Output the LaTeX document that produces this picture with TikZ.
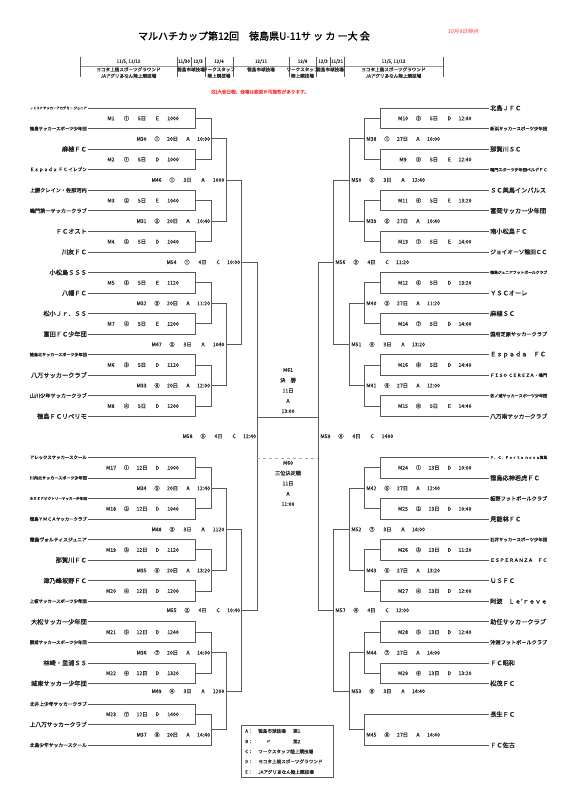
\documentclass[tikz,border=0pt]{standalone}
\usepackage{fontspec}
\usepackage{graphicx}
\usepackage{tikz}
\usetikzlibrary{calc}
\setmainfont{Noto Sans CJK JP}
\newfontfamily\cjkb[FakeBold=1.5]{Noto Sans CJK JP}
\newfontfamily\cjkm[FakeBold=0.6]{Noto Sans CJK JP}
\newfontfamily\cjkit[FakeSlant=0.2]{Noto Sans CJK JP}
\definecolor{linegray}{HTML}{5A5A5A}
\definecolor{shadegray}{HTML}{A8A8A8}
\definecolor{notered}{HTML}{FF3B3B}
\definecolor{textgray}{HTML}{2E2E2E}

% team names shrink to the cell width
\newlength\namewd
\newcommand\fitname[1]{\settowidth\namewd{#1}\ifdim\namewd>57pt\resizebox{57pt}{!}{#1}\else#1\fi}
% match label: number, slot, day, venue, time
\newcommand\ml[5]{\makebox[15.5pt]{#1}\makebox[15.5pt]{#2}\makebox[15.5pt]{#3}\makebox[15.5pt]{#4}\makebox[15.5pt]{#5}}
% upper end, lower end, column, match name, label style, label
\newcommand\bracket[6]{%
  \draw[bline] (#1) -- (#1 -| #3) -- (#2 -| #3) -- (#2);
  \coordinate (#4) at ($(#1 -| #3)!0.5!(#2 -| #3)$);
  \node[mlabel,#5] (#4lab) at (#4) {#6};}

\tikzset{
  bline/.style={draw=linegray, line width=0.8pt},
  team/.style={font=\cjkb\fontsize{6.2}{7}\selectfont, inner xsep=1pt, inner ysep=0.5pt, text=black!85},
  lteam/.style={team, anchor=east},
  rteam/.style={team, anchor=west},
  mlabel/.style={font=\cjkm\fontsize{5.2}{6}\selectfont, inner sep=0pt, text=textgray},
  lfirst/.style={xshift=-53pt},
  lnext/.style={anchor=east, xshift=0.5pt},
  rfirst/.style={xshift=54pt},
  rnext/.style={anchor=west, xshift=-0.5pt},
  hdr/.style={font=\cjkm\fontsize{4.6}{6.4}\selectfont, inner sep=0pt, align=center, text=textgray},
  ctext/.style={font=\cjkm\fontsize{5.2}{10.3}\selectfont, inner sep=0pt, align=center, text=textgray},
}

\begin{document}
\begin{tikzpicture}[x=1pt,y=-1pt]
  \useasboundingbox (0,0) rectangle (576,805);
  % title
  \node[font=\cjkb\fontsize{10}{12}\selectfont] (title) at (254,36) {マルハチカップ第12回　徳島県U-11サ ッ カ ー大 会};
  \node[font=\cjkit\fontsize{5.4}{6}\selectfont, text=notered] (asof) at (463,31) {10月8日時点};
  % schedule strip
  \draw[draw=black!40, line width=1.3pt] (80,66.7) -- (443,66.7);
  \draw[draw=linegray, line width=0.6pt] (80,56.7) -- (80,76.7) (177,56.7) -- (177,76.7)
    (191,56.7) -- (191,66.7) (205,56.7) -- (205,76.7) (233,56.7) -- (233,76.7)
    (289,56.7) -- (289,76.7) (316,56.7) -- (316,76.7) (330,56.7) -- (330,66.7)
    (344,56.7) -- (344,76.7) (443,56.7) -- (443,76.7);
  \node[hdr] (hd1) at (128.5,61.5) {11/5, 11/12};
  \node[hdr] (hd2) at (184,61.5) {11/30};
  \node[hdr] (hd3) at (198,61.5) {12/3};
  \node[hdr] (hd4) at (219,61.5) {12/4};
  \node[hdr] (hd5) at (261,61.5) {12/11};
  \node[hdr] (hd6) at (302.5,61.5) {12/4};
  \node[hdr] (hd7) at (323,61.5) {12/3};
  \node[hdr] (hd8) at (337,61.5) {11/21};
  \node[hdr] (hd9) at (393.5,61.5) {11/5, 11/13};
  \node[hdr] (hv1) at (128.5,72.7) {ヨコタ上桜スポーツグラウンド\\JAアグリあなん陸上競技場};
  \node[hdr] (hv2) at (191,69.5) {徳島市球技場};
  \node[hdr] (hv3) at (219,72.7) {ワークスタッフ\\陸上競技場};
  \node[hdr] (hv4) at (261,69.5) {徳島市球技場};
  \node[hdr] (hv5) at (302.5,72.7) {ワークスタッフ\\陸上競技場};
  \node[hdr] (hv6) at (330,69.5) {徳島市球技場};
  \node[hdr] (hv7) at (393.5,72.7) {ヨコタ上桜スポーツグラウンド\\JAアグリあなん陸上競技場};
  \node[hdr, text=notered] (note) at (260,92) {注)大会日程、会場は変更の可能性があります。};
  % bracket columns
  \coordinate (c1) at (195,0);
  \coordinate (c2) at (211,0);
  \coordinate (c3) at (226,0);
  \coordinate (c4) at (241,0);
  \coordinate (c5) at (257,0);
  \coordinate (d1) at (380,0);
  \coordinate (d2) at (364,0);
  \coordinate (d3) at (349,0);
  \coordinate (d4) at (333,0);
  \coordinate (d5) at (318,0);
  % left teams
  \node[lteam] (L1) at (88,108.0) {\fitname{ＪＣＳＰサッカーアカデミー ジュニア}};
  \node[lteam] (L2) at (88,128.6) {\fitname{徳島サッカースポーツ少年団}};
  \node[lteam] (L3) at (88,149.1) {\fitname{麻植ＦＣ}};
  \node[lteam] (L4) at (88,169.7) {\fitname{Ｅｓｐａｄａ ＦＣ イレブン}};
  \node[lteam] (L5) at (88,190.2) {\fitname{上勝クレイン・佐那河内}};
  \node[lteam] (L6) at (88,210.8) {\fitname{鳴門第一サッカークラブ}};
  \node[lteam] (L7) at (88,231.3) {\fitname{ＦＣオスト}};
  \node[lteam] (L8) at (88,251.9) {\fitname{川友ＦＣ}};
  \node[lteam] (L9) at (88,272.4) {\fitname{小松島ＳＳＳ}};
  \node[lteam] (L10) at (88,293.0) {\fitname{八幡ＦＣ}};
  \node[lteam] (L11) at (88,313.5) {\fitname{松小Ｊｒ．ＳＳ}};
  \node[lteam] (L12) at (88,334.1) {\fitname{富田ＦＣ少年団}};
  \node[lteam] (L13) at (88,354.6) {\fitname{徳島北サッカースポーツ少年団}};
  \node[lteam] (L14) at (88,375.2) {\fitname{八万サッカークラブ}};
  \node[lteam] (L15) at (88,395.7) {\fitname{山川少年サッカークラブ}};
  \node[lteam] (L16) at (88,416.3) {\fitname{徳島ＦＣリベリモ}};
  \node[lteam] (L17) at (88,457.4) {\fitname{アレックスサッカースクール}};
  \node[lteam] (L18) at (88,477.9) {\fitname{川内北サッカースポーツ少年団}};
  \node[lteam] (L19) at (88,498.5) {\fitname{ＢＥＥＦビクトリーサッカー少年団}};
  \node[lteam] (L20) at (88,519.0) {\fitname{徳島ＹＭＣＡサッカークラブ}};
  \node[lteam] (L21) at (88,539.6) {\fitname{徳島ヴォルティスジュニア}};
  \node[lteam] (L22) at (88,560.1) {\fitname{那賀川ＦＣ}};
  \node[lteam] (L23) at (88,580.7) {\fitname{津乃峰坂野ＦＣ}};
  \node[lteam] (L24) at (88,601.2) {\fitname{上板サッカースポーツ少年団}};
  \node[lteam] (L25) at (88,621.8) {\fitname{大松サッカー少年団}};
  \node[lteam] (L26) at (88,642.3) {\fitname{勝浦サッカースポーツ少年団}};
  \node[lteam] (L27) at (88,662.9) {\fitname{林崎・里浦ＳＳ}};
  \node[lteam] (L28) at (88,683.4) {\fitname{城東サッカー少年団}};
  \node[lteam] (L29) at (88,704.0) {\fitname{北井上少年サッカークラブ}};
  \node[lteam] (L30) at (88,724.5) {\fitname{上八万サッカークラブ}};
  \node[lteam] (L31) at (88,745.1) {\fitname{北島少年サッカースクール}};
  % right teams
  \node[rteam] (R1) at (489,108.0) {\fitname{北島ＪＦＣ}};
  \node[rteam] (R2) at (489,128.6) {\fitname{新浜サッカースポーツ少年団}};
  \node[rteam] (R3) at (489,149.1) {\fitname{那賀川ＳＣ}};
  \node[rteam] (R4) at (489,169.7) {\fitname{鳴門スポーツ少年団ベルデＦＣ}};
  \node[rteam] (R5) at (489,190.2) {\fitname{ＳＣ美馬インパルス}};
  \node[rteam] (R6) at (489,210.8) {\fitname{富岡サッカー少年団}};
  \node[rteam] (R7) at (489,231.3) {\fitname{南小松島ＦＣ}};
  \node[rteam] (R8) at (489,251.9) {\fitname{ジョイオーソ論田ＣＣ}};
  \node[rteam] (R9) at (489,272.4) {\fitname{徳島ジュニアフットボールクラブ}};
  \node[rteam] (R10) at (489,293.0) {\fitname{ＹＳＣオーレ}};
  \node[rteam] (R11) at (489,313.5) {\fitname{麻植ＳＣ}};
  \node[rteam] (R12) at (489,334.1) {\fitname{国府芝原サッカークラブ}};
  \node[rteam] (R13) at (489,354.6) {\fitname{Ｅｓｐａｄａ　ＦＣ}};
  \node[rteam] (R14) at (489,375.2) {\fitname{ＦＩＳＯ ＣＥＲＥＺＡ・鳴門}};
  \node[rteam] (R15) at (489,395.7) {\fitname{佐ノ浦サッカースポーツ少年団}};
  \node[rteam] (R16) at (489,416.3) {\fitname{八万南サッカークラブ}};
  \node[rteam] (R17) at (489,457.4) {\fitname{Ｆ．Ｃ．Ｐｏｒｔａ ｎｏｖａ徳島}};
  \node[rteam] (R18) at (489,477.9) {\fitname{徳島応神若虎ＦＣ}};
  \node[rteam] (R19) at (489,498.5) {\fitname{板野フットボールクラブ}};
  \node[rteam] (R20) at (489,519.0) {\fitname{見能林ＦＣ}};
  \node[rteam] (R21) at (489,539.6) {\fitname{石井サッカースポーツ少年団}};
  \node[rteam] (R22) at (489,560.1) {\fitname{ＥＳＰＥＲＡＮＺＡ　ＦＣ}};
  \node[rteam] (R23) at (489,580.7) {\fitname{ＵＳＦＣ}};
  \node[rteam] (R24) at (489,601.2) {\fitname{阿波　Ｌｅ’ｒｅｖｅ}};
  \node[rteam] (R25) at (489,621.8) {\fitname{助任サッカークラブ}};
  \node[rteam] (R26) at (489,642.3) {\fitname{沖洲フットボールクラブ}};
  \node[rteam] (R27) at (489,662.9) {\fitname{ＦＣ昭和}};
  \node[rteam] (R28) at (489,683.4) {\fitname{松茂ＦＣ}};
  \node[rteam] (R29) at (489,714.3) {\fitname{長生ＦＣ}};
  \node[rteam] (R30) at (489,745.1) {\fitname{ＦＣ佐古}};
  % left block, upper half
  \bracket{L1.east}{L2.east}{c1}{M1}{lfirst}{\ml{M1}{①}{5日}{E}{1000}}
  \bracket{L3.east}{L4.east}{c1}{M2}{lfirst}{\ml{M2}{①}{5日}{D}{1000}}
  \bracket{M1}{M2}{c2}{M30}{lnext}{\ml{M30}{①}{20日}{A}{10:00}}
  \bracket{L5.east}{L6.east}{c1}{M3}{lfirst}{\ml{M3}{②}{5日}{E}{1040}}
  \bracket{L7.east}{L8.east}{c1}{M4}{lfirst}{\ml{M4}{②}{5日}{D}{1040}}
  \bracket{M3}{M4}{c2}{M31}{lnext}{\ml{M31}{②}{20日}{A}{10:40}}
  \bracket{M30}{M31}{c3}{M46}{lnext}{\ml{M46}{①}{3日}{A}{1000}}
  \bracket{L9.east}{L10.east}{c1}{M5}{lfirst}{\ml{M5}{③}{5日}{E}{1120}}
  \bracket{L11.east}{L12.east}{c1}{M7}{lfirst}{\ml{M7}{④}{5日}{E}{1200}}
  \bracket{M5}{M7}{c2}{M32}{lnext}{\ml{M32}{③}{20日}{A}{11:20}}
  \bracket{L13.east}{L14.east}{c1}{M6}{lfirst}{\ml{M6}{③}{5日}{D}{1120}}
  \bracket{L15.east}{L16.east}{c1}{M8}{lfirst}{\ml{M8}{④}{5日}{D}{1200}}
  \bracket{M6}{M8}{c2}{M33}{lnext}{\ml{M33}{④}{20日}{A}{12:00}}
  \bracket{M32}{M33}{c3}{M47}{lnext}{\ml{M47}{②}{3日}{A}{1040}}
  \bracket{M46}{M47}{c4}{M54}{lnext}{\ml{M54}{①}{4日}{C}{10:00}}
  % left block, lower half
  \bracket{L17.east}{L18.east}{c1}{M17}{lfirst}{\ml{M17}{①}{12日}{D}{1000}}
  \bracket{L19.east}{L20.east}{c1}{M18}{lfirst}{\ml{M18}{②}{12日}{D}{1040}}
  \bracket{M17}{M18}{c2}{M34}{lnext}{\ml{M34}{⑤}{20日}{A}{12:40}}
  \bracket{L21.east}{L22.east}{c1}{M19}{lfirst}{\ml{M19}{③}{12日}{D}{1120}}
  \bracket{L23.east}{L24.east}{c1}{M20}{lfirst}{\ml{M20}{④}{12日}{D}{1200}}
  \bracket{M19}{M20}{c2}{M35}{lnext}{\ml{M35}{⑥}{20日}{A}{13:20}}
  \bracket{M34}{M35}{c3}{M48}{lnext}{\ml{M48}{③}{3日}{A}{1120}}
  \bracket{L25.east}{L26.east}{c1}{M21}{lfirst}{\ml{M21}{⑤}{12日}{D}{1240}}
  \bracket{L27.east}{L28.east}{c1}{M22}{lfirst}{\ml{M22}{⑥}{12日}{D}{1320}}
  \bracket{M21}{M22}{c2}{M36}{lnext}{\ml{M36}{⑦}{20日}{A}{14:00}}
  \bracket{L29.east}{L30.east}{c1}{M23}{lfirst}{\ml{M23}{⑦}{12日}{D}{1400}}
  \bracket{M23}{L31.east}{c2}{M37}{lnext,yshift=-5pt}{\ml{M37}{⑧}{20日}{A}{14:40}}
  \bracket{M36}{M37}{c3}{M49}{lnext}{\ml{M49}{④}{3日}{A}{1200}}
  \bracket{M48}{M49}{c4}{M55}{lnext}{\ml{M55}{②}{4日}{C}{10:40}}
  \bracket{M54}{M55}{c5}{M58}{lnext}{\ml{M58}{⑤}{4日}{C}{12:40}}
  % right block, upper half
  \bracket{R1.west}{R2.west}{d1}{M10}{rfirst}{\ml{M10}{⑤}{5日}{D}{12:40}}
  \bracket{R3.west}{R4.west}{d1}{M9}{rfirst}{\ml{M9}{⑤}{5日}{E}{12:40}}
  \bracket{M10}{M9}{d2}{M38}{rnext}{\ml{M38}{①}{27日}{A}{10:00}}
  \bracket{R5.west}{R6.west}{d1}{M11}{rfirst}{\ml{M11}{⑥}{5日}{E}{13:20}}
  \bracket{R7.west}{R8.west}{d1}{M13}{rfirst}{\ml{M13}{⑦}{5日}{E}{14:00}}
  \bracket{M11}{M13}{d2}{M39}{rnext}{\ml{M39}{②}{27日}{A}{10:40}}
  \bracket{M38}{M39}{d3}{M50}{rnext}{\ml{M50}{⑤}{3日}{A}{12:40}}
  \bracket{R9.west}{R10.west}{d1}{M12}{rfirst}{\ml{M12}{⑥}{5日}{D}{13:20}}
  \bracket{R11.west}{R12.west}{d1}{M14}{rfirst}{\ml{M14}{⑦}{5日}{D}{14:00}}
  \bracket{M12}{M14}{d2}{M40}{rnext}{\ml{M40}{③}{27日}{A}{11:20}}
  \bracket{R13.west}{R14.west}{d1}{M16}{rfirst}{\ml{M16}{⑧}{5日}{D}{14:40}}
  \bracket{R15.west}{R16.west}{d1}{M15}{rfirst}{\ml{M15}{⑧}{5日}{E}{14:40}}
  \bracket{M16}{M15}{d2}{M41}{rnext}{\ml{M41}{④}{27日}{A}{12:00}}
  \bracket{M40}{M41}{d3}{M51}{rnext}{\ml{M51}{⑥}{3日}{A}{13:20}}
  \bracket{M50}{M51}{d4}{M56}{rnext}{\ml{M56}{③}{4日}{C}{11:20}}
  % right block, lower half
  \bracket{R17.west}{R18.west}{d1}{M24}{rfirst}{\ml{M24}{①}{13日}{D}{10:00}}
  \bracket{R19.west}{R20.west}{d1}{M25}{rfirst}{\ml{M25}{②}{13日}{D}{10:40}}
  \bracket{M24}{M25}{d2}{M42}{rnext}{\ml{M42}{⑤}{27日}{A}{12:40}}
  \bracket{R21.west}{R22.west}{d1}{M26}{rfirst}{\ml{M26}{③}{13日}{D}{11:20}}
  \bracket{R23.west}{R24.west}{d1}{M27}{rfirst}{\ml{M27}{④}{13日}{D}{12:00}}
  \bracket{M26}{M27}{d2}{M43}{rnext}{\ml{M43}{⑥}{27日}{A}{13:20}}
  \bracket{M42}{M43}{d3}{M52}{rnext}{\ml{M52}{⑦}{3日}{A}{14:00}}
  \bracket{R25.west}{R26.west}{d1}{M28}{rfirst}{\ml{M28}{⑤}{13日}{D}{12:40}}
  \bracket{R27.west}{R28.west}{d1}{M29}{rfirst}{\ml{M29}{⑥}{13日}{D}{13:20}}
  \bracket{M28}{M29}{d2}{M44}{rnext}{\ml{M44}{⑦}{27日}{A}{14:00}}
  \bracket{R29.west}{R30.west}{d2}{M45}{rnext,yshift=-5pt}{\ml{M45}{⑧}{27日}{A}{14:40}}
  \bracket{M44}{M45}{d3}{M53}{rnext}{\ml{M53}{⑧}{3日}{A}{14:40}}
  \bracket{M52}{M53}{d4}{M57}{rnext}{\ml{M57}{④}{4日}{C}{12:00}}
  \bracket{M56}{M57}{d5}{M59}{rnext}{\ml{M59}{⑥}{4日}{C}{1400}}
  % final and third place
  \coordinate (fin) at (0,417);
  \coordinate (third) at (0,458);
  \draw[bline] (M58 |- fin) -- (M59 |- fin);
  \draw[draw=shadegray, line width=0.8pt, dashed] (M58 |- third) -- (M59 |- third);
  \node[ctext] (M61) at (288,390.6) {M61\\決　勝\\11日\\A\\13:00};
  \node[ctext] (M60) at (288,483.5) {M60\\三位決定戦\\11日\\A\\11:00};
  % venue key
  \draw[draw=linegray, line width=0.8pt] (241,725) rectangle (333,777);
  \node[hdr, anchor=west] (kA) at (245,731) {A：};
  \node[hdr, anchor=west] (kB) at (245,741.5) {B：};
  \node[hdr, anchor=west] (kC) at (245,751.5) {C：};
  \node[hdr, anchor=west] (kD) at (245,761.5) {D：};
  \node[hdr, anchor=west] (kE) at (245,772) {E：};
  \node[hdr, anchor=west] (vA) at (258,731) {徳島市球技場};
  \node[hdr, anchor=west] (vA2) at (293,731) {第1};
  \node[hdr, anchor=west] (vB) at (266,741.5) {〃};
  \node[hdr, anchor=west] (vB2) at (293,741.5) {第2};
  \node[hdr, anchor=west] (vC) at (258,751.5) {ワークスタッフ陸上競技場};
  \node[hdr, anchor=west] (vD) at (258,761.5) {ヨコタ上桜スポーツグラウンド};
  \node[hdr, anchor=west] (vE) at (258,772) {JAアグリあなん陸上競技場};
\end{tikzpicture}
\end{document}
